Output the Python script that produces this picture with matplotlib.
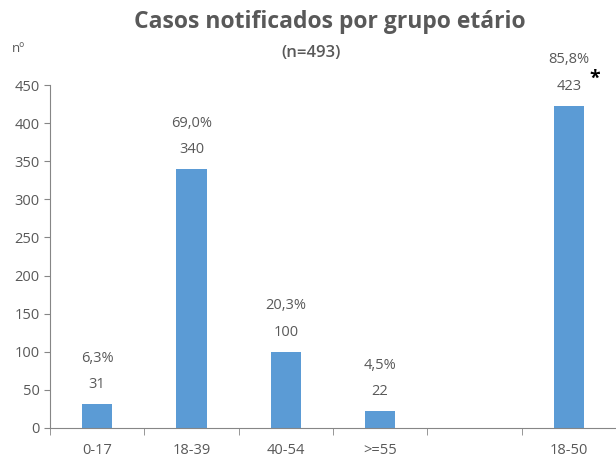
import matplotlib.pyplot as plt
import numpy as np

categories = ['0-17', '18-39', '40-54', '>=55', '', '18-50']
counts = [31, 340, 100, 22, None, 423]
percents = ['6,3%', '69,0%', '20,3%', '4,5%', '', '85,8%']

grey = '#595959'
plt.rcParams['font.family'] = ['Open Sans', 'DejaVu Sans']

fig = plt.figure(figsize=(6.16, 4.61), dpi=100)
ax = fig.add_axes([0.081, 0.0716, 0.919, 0.744])

x = np.arange(len(categories))
vals = [c if c is not None else 0 for c in counts]
ax.bar(x, vals, width=0.32, color='#5b9bd5')

for i, c in enumerate(counts):
    if c is None:
        continue
    ax.annotate(str(c), (x[i], c), xytext=(0, 14), textcoords='offset points',
                ha='center', va='center', fontsize=10.5, color=grey)
    ax.annotate(percents[i], (x[i], c), xytext=(0, 33), textcoords='offset points',
                ha='center', va='center', fontsize=10.5, color=grey)

ax.set_xlim(-0.5, len(categories) - 0.5)
ax.set_ylim(0, 450)
ax.set_yticks(range(0, 451, 50))
ax.set_xticks(x)
ax.set_xticklabels(categories)
ax.set_xticks(np.arange(-0.5, len(categories) - 0.5, 1), minor=True)
ax.tick_params(axis='x', which='major', length=0, pad=11, labelsize=10.5, labelcolor=grey)
ax.tick_params(axis='x', which='minor', length=5, color='#868686')
ax.tick_params(axis='y', length=4, color='#868686', labelsize=10.5, labelcolor=grey)

for s in ['top', 'right']:
    ax.spines[s].set_visible(False)
for s in ['left', 'bottom']:
    ax.spines[s].set_color('#868686')

fig.text(0.536, 0.953, 'Casos notificados por grupo etário', ha='center', va='center',
         fontsize=16.5, fontweight='bold', color=grey)
fig.text(0.505, 0.885, '(n=493)', ha='center', va='center',
         fontsize=12, fontweight='semibold', color=grey)
fig.text(0.03, 0.895, 'nº', ha='center', va='center', fontsize=9.5, color=grey)
fig.text(0.966, 0.83, '*', ha='center', va='center', fontsize=14, fontweight='bold', color='black')

fig.savefig('out.png', dpi=100)
